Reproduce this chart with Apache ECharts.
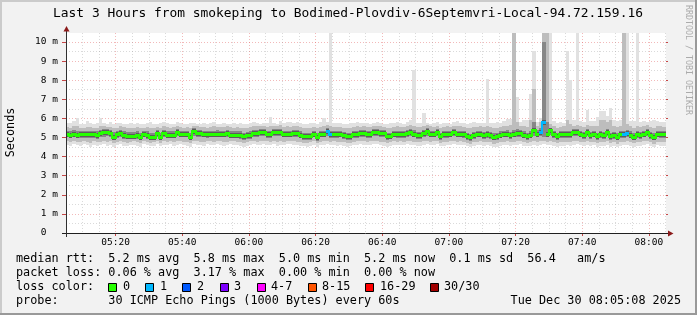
<!DOCTYPE html>
<html><head><meta charset="utf-8">
<script src="https://cdn.jsdelivr.net/npm/echarts@6/dist/echarts.min.js"></script>
<style>html,body{margin:0;padding:0;background:#f2f2f2;}#c{width:697px;height:315px;}</style>
</head><body><div id="c"></div>
<script>
// ---------- data ----------
const firstColumn = '05:05';            // first one-minute column
const axisStart = '05:05:08', axisEnd = '08:05:08';
const majorTickLabels = ['05:20','05:40','06:00','06:20','06:40','07:00','07:20','07:40','08:00'];
const minorTickLabels = ['05:10','05:15','05:25','05:30','05:35','05:45','05:50','05:55','06:05','06:10','06:15','06:25','06:30','06:35','06:45','06:50','06:55','07:05','07:10','07:15','07:25','07:30','07:35','07:45','07:50','07:55','08:05'];
const yTickValues = [0,1,2,3,4,5,6,7,8,9,10];
const yMinorValues = [0.5,1.5,2.5,3.5,4.5,5.5,6.5,7.5,8.5,9.5];
const yMax = 10.47;

const medianRtt = [
5.20,5.12,5.20,5.11,5.17,5.17,5.16,5.17,5.17,5.11,
5.24,5.27,5.27,5.26,5.00,5.17,5.24,5.13,5.06,5.10,
5.10,5.11,5.00,5.20,5.13,5.03,5.04,5.24,5.00,5.22,
5.15,5.15,5.15,5.30,5.20,5.20,5.20,5.03,5.33,5.24,
5.24,5.18,5.18,5.18,5.20,5.20,5.20,5.20,5.25,5.15,
5.15,5.15,5.15,5.06,5.11,5.11,5.24,5.24,5.29,5.29,
5.17,5.17,5.27,5.27,5.27,5.20,5.20,5.20,5.22,5.22,
5.15,5.06,5.06,5.06,5.20,5.00,5.20,5.20,5.32,5.17,
5.18,5.18,5.18,5.13,5.06,5.06,5.17,5.17,5.22,5.22,
5.17,5.17,5.29,5.29,5.24,5.24,5.06,5.06,5.20,5.17,
5.17,5.17,5.24,5.29,5.20,5.13,5.13,5.24,5.32,5.20,
5.20,5.29,5.06,5.17,5.17,5.20,5.29,5.20,5.20,5.17,
5.06,5.00,5.11,5.20,5.20,5.11,5.17,5.11,5.03,5.06,
5.15,5.20,5.20,5.11,5.20,5.24,5.24,5.15,5.06,5.15,
5.37,5.20,5.29,5.81,5.20,5.37,5.17,5.06,5.17,5.17,
5.17,5.17,5.29,5.29,5.20,5.13,5.27,5.13,5.20,5.06,
5.17,5.11,5.29,5.06,5.11,5.03,5.17,5.17,5.24,5.15,
5.03,5.17,5.11,5.20,5.29,5.11,5.03,5.20,5.17,5.17];

const lossCount = [
0,0,0,0,0,0,0,0,0,0, 0,0,0,0,0,0,0,0,0,0, 0,0,0,0,0,0,0,0,0,0,
0,0,0,0,0,0,0,0,0,0, 0,0,0,0,0,0,0,0,0,0, 0,0,0,0,0,0,0,0,0,0,
0,0,0,0,0,0,0,0,0,0, 0,0,0,0,0,0,0,0,1,1, 0,0,0,0,0,0,0,0,0,0,
0,0,0,0,0,0,0,0,0,0, 0,0,0,0,0,0,0,0,0,0, 0,0,0,0,0,0,0,0,0,0,
0,0,0,0,0,0,0,0,0,0, 0,0,0,0,0,0,0,0,0,0, 0,0,1,1,0,0,0,0,0,0,
0,0,0,0,0,0,0,0,0,0, 0,0,0,0,0,0,0,1,1,0, 0,0,0,0,0,0,0,0,0,0];

// smoke envelope (outermost = min/max of pings)
const smokeMax = [
5.78,5.75,5.85,6.00,5.72,5.70,5.85,5.75,5.70,5.76,
6.00,5.78,5.72,5.80,5.70,5.75,5.78,5.72,5.70,5.74,
5.70,5.76,5.72,5.68,5.75,5.80,5.72,5.70,5.78,5.82,
5.74,5.70,5.72,5.80,5.76,5.70,5.72,5.78,5.74,5.70,
5.72,5.76,5.70,5.74,5.80,5.72,5.70,5.76,5.72,5.70,
5.74,5.72,5.78,5.70,5.72,5.75,5.82,5.76,5.72,5.74,
5.76,6.05,5.75,5.72,5.85,5.74,5.80,5.82,5.78,5.80,
5.76,5.72,5.70,5.74,5.78,5.72,5.80,6.00,5.82,10.60,
5.78,5.74,5.76,5.72,5.70,5.74,5.78,5.80,5.76,5.78,
5.74,5.72,5.76,5.82,5.74,5.70,5.72,5.78,5.74,5.80,
5.76,5.72,5.80,5.92,8.52,5.76,5.78,6.28,5.74,5.72,
5.76,5.80,5.72,5.74,5.78,5.72,5.80,5.84,5.76,5.74,
5.72,5.76,5.80,5.74,5.78,5.76,8.05,5.74,5.76,5.80,
5.78,5.84,5.95,5.95,10.60,7.12,5.80,5.90,5.92,7.30,
9.52,5.82,6.00,10.60,10.60,10.60,5.84,5.76,5.80,5.78,
9.55,8.00,5.90,10.60,5.84,5.82,6.42,5.88,5.84,6.07,
6.37,6.37,6.11,6.56,5.90,5.86,5.92,10.60,10.60,5.88,
5.84,10.60,5.80,5.88,5.82,5.86,5.90,5.84,5.80,5.82];
const smokeMin = [
4.62,4.58,4.66,4.60,4.55,4.64,4.60,4.52,4.62,4.58,
4.60,4.66,4.56,4.62,4.50,4.60,4.64,4.58,4.55,4.60,
4.62,4.56,4.52,4.64,4.60,4.55,4.58,4.66,4.54,4.62,
4.60,4.64,4.58,4.62,4.66,4.60,4.58,4.52,4.64,4.62,
4.60,4.58,4.64,4.62,4.60,4.66,4.62,4.58,4.60,4.64,
4.62,4.60,4.56,4.52,4.58,4.62,4.64,4.60,4.62,4.66,
4.62,4.60,4.64,4.58,4.62,4.60,4.64,4.66,4.62,4.60,
4.58,4.54,4.52,4.56,4.62,4.50,4.60,4.62,4.64,4.60,
4.62,4.58,4.60,4.56,4.52,4.54,4.60,4.62,4.64,4.62,
4.60,4.62,4.64,4.66,4.60,4.58,4.52,4.56,4.62,4.60,
4.62,4.60,4.64,4.62,4.60,4.58,4.56,4.62,4.66,4.60,
4.62,4.64,4.54,4.58,4.60,4.62,4.64,4.60,4.62,4.60,
4.54,4.50,4.56,4.60,4.62,4.56,4.60,4.56,4.50,4.52,
4.58,4.60,4.62,4.58,4.60,4.62,4.64,4.58,4.54,4.58,
4.60,4.58,4.62,4.66,4.60,4.62,4.58,4.52,4.56,4.58,
4.60,4.58,4.62,4.64,4.60,4.56,4.62,4.56,4.60,4.52,
4.58,4.56,4.62,4.52,4.56,4.50,4.58,4.60,4.62,4.58,
4.52,4.58,4.56,4.62,4.64,4.56,4.50,4.60,4.56,4.58];
// middle smoke layer
const smokeHi2 = [
5.55,5.52,5.58,5.60,5.50,5.52,5.56,5.54,5.50,5.52,
5.60,5.58,5.55,5.56,5.48,5.52,5.58,5.54,5.50,5.52,
5.50,5.54,5.48,5.52,5.55,5.50,5.48,5.56,5.50,5.58,
5.55,5.52,5.54,5.62,5.56,5.52,5.54,5.50,5.62,5.58,
5.55,5.54,5.52,5.56,5.58,5.55,5.54,5.56,5.60,5.54,
5.52,5.54,5.52,5.50,5.52,5.54,5.58,5.58,5.60,5.62,
5.56,5.62,5.60,5.62,5.64,5.56,5.58,5.56,5.58,5.60,
5.54,5.50,5.50,5.52,5.56,5.50,5.56,5.60,5.64,5.62,
5.56,5.54,5.56,5.52,5.50,5.52,5.56,5.58,5.56,5.58,
5.56,5.54,5.60,5.62,5.58,5.56,5.50,5.52,5.56,5.58,
5.56,5.54,5.60,5.64,5.60,5.54,5.56,5.62,5.64,5.58,
5.56,5.62,5.52,5.56,5.58,5.56,5.62,5.60,5.58,5.56,
5.52,5.48,5.54,5.56,5.58,5.54,5.62,5.54,5.50,5.52,
5.56,5.58,5.62,5.66,10.60,5.80,5.62,5.60,5.56,5.90,
7.56,5.62,5.80,10.60,10.60,5.70,5.58,5.52,5.56,5.58,
5.90,5.70,5.62,5.64,5.58,5.56,5.66,5.58,5.60,5.62,
5.92,5.90,5.80,5.94,5.62,5.56,5.60,10.60,5.70,5.58,
5.52,5.60,5.56,5.60,5.64,5.56,5.52,5.60,5.58,5.56];
const smokeLo2 = [
4.80,4.76,4.82,4.78,4.74,4.80,4.78,4.72,4.80,4.76,
4.78,4.82,4.74,4.80,4.70,4.78,4.82,4.76,4.72,4.78,
4.80,4.74,4.70,4.82,4.78,4.72,4.76,4.82,4.72,4.80,
4.78,4.82,4.76,4.80,4.82,4.78,4.76,4.72,4.82,4.80,
4.78,4.76,4.82,4.80,4.78,4.82,4.80,4.76,4.78,4.82,
4.80,4.78,4.74,4.70,4.76,4.80,4.82,4.78,4.80,4.82,
4.80,4.78,4.82,4.76,4.80,4.78,4.82,4.84,4.80,4.78,
4.76,4.72,4.70,4.74,4.80,4.70,4.78,4.80,4.82,4.78,
4.80,4.76,4.78,4.74,4.70,4.72,4.78,4.80,4.82,4.80,
4.78,4.80,4.82,4.84,4.78,4.76,4.70,4.74,4.80,4.78,
4.80,4.78,4.82,4.80,4.78,4.76,4.74,4.80,4.82,4.78,
4.80,4.82,4.72,4.76,4.78,4.80,4.82,4.78,4.80,4.78,
4.72,4.68,4.74,4.78,4.80,4.74,4.78,4.74,4.68,4.70,
4.76,4.78,4.80,4.76,4.78,4.80,4.82,4.76,4.72,4.76,
4.80,4.76,4.80,4.84,4.78,4.80,4.76,4.70,4.74,4.76,
4.78,4.76,4.80,4.82,4.78,4.74,4.80,4.74,4.78,4.70,
4.76,4.74,4.80,4.70,4.74,4.68,4.76,4.78,4.80,4.76,
4.70,4.76,4.74,4.80,4.82,4.74,4.68,4.78,4.74,4.76];
// inner smoke layer
const smokeHi3 = [
5.36,5.32,5.38,5.36,5.34,5.34,5.36,5.35,5.34,5.32,
5.40,5.42,5.42,5.40,5.28,5.34,5.40,5.32,5.28,5.30,
5.30,5.32,5.24,5.36,5.32,5.26,5.26,5.40,5.26,5.38,
5.32,5.32,5.34,5.46,5.36,5.36,5.36,5.26,5.48,5.40,
5.40,5.36,5.34,5.36,5.36,5.38,5.36,5.36,5.40,5.32,
5.32,5.32,5.32,5.26,5.30,5.32,5.40,5.40,5.44,5.44,
5.34,5.36,5.44,5.44,5.44,5.36,5.36,5.36,5.38,5.38,
5.32,5.26,5.24,5.26,5.36,5.22,5.36,5.36,5.48,5.36,
5.34,5.34,5.36,5.30,5.24,5.26,5.34,5.34,5.38,5.38,
5.34,5.34,5.44,5.46,5.40,5.40,5.24,5.26,5.36,5.34,
5.34,5.34,5.40,5.46,5.38,5.30,5.30,5.40,5.48,5.36,
5.36,5.44,5.24,5.34,5.34,5.36,5.44,5.36,5.36,5.34,
5.24,5.20,5.28,5.36,5.36,5.28,5.34,5.28,5.22,5.24,
5.32,5.36,5.38,5.30,5.40,5.42,5.40,5.32,5.26,5.34,
5.80,5.38,5.50,10.00,5.80,5.52,5.34,5.24,5.34,5.34,
5.36,5.36,5.44,5.46,5.36,5.30,5.44,5.30,5.36,5.24,
5.34,5.30,5.46,5.24,5.28,5.22,5.34,5.36,5.40,5.32,
5.22,5.34,5.30,5.36,5.44,5.28,5.22,5.36,5.34,5.34];
const smokeLo3 = [
5.00,4.96,5.00,4.96,4.98,4.98,4.96,4.98,4.98,4.94,
5.02,5.04,5.06,5.04,4.86,4.98,5.02,4.94,4.90,4.92,
4.94,4.92,4.86,5.00,4.94,4.88,4.88,5.02,4.86,5.00,
4.96,4.98,4.96,5.08,5.00,5.00,5.00,4.86,5.10,5.02,
5.02,5.00,4.98,5.00,5.00,5.00,5.00,5.00,5.04,4.96,
4.96,4.96,4.94,4.88,4.92,4.94,5.02,5.04,5.06,5.08,
4.98,4.98,5.06,5.06,5.06,5.00,5.00,5.00,5.02,5.02,
4.96,4.88,4.86,4.88,5.00,4.84,5.00,5.00,5.10,4.98,
4.98,4.98,5.00,4.94,4.88,4.88,4.98,4.98,5.02,5.02,
4.98,4.98,5.08,5.10,5.04,5.04,4.88,4.90,5.00,4.98,
4.98,4.98,5.04,5.08,5.00,4.94,4.94,5.04,5.10,5.00,
5.00,5.06,4.88,4.98,4.98,5.00,5.06,5.00,5.00,4.98,
4.88,4.84,4.92,5.00,5.00,4.92,4.98,4.92,4.86,4.88,
4.96,5.00,5.00,4.92,5.00,5.04,5.04,4.96,4.88,4.96,
5.10,5.00,5.06,5.04,5.00,5.12,4.98,4.88,4.98,4.98,
4.98,4.98,5.06,5.08,5.00,4.94,5.06,4.94,5.00,4.88,
4.98,4.92,5.08,4.88,4.92,4.86,4.98,4.98,5.04,4.96,
4.86,4.98,4.92,5.00,5.06,4.92,4.86,5.00,4.98,4.98];

const lossLegendLabels = ['0','1','2','3','4-7','8-15','16-29','30/30'];
const lossLegendColors = ['#26ff00','#00b8ff','#0059ff','#7e00ff','#ff00ff','#ff5500','#ff0000','#a10000'];

// ---------- helpers ----------
function toMin(s){ const p = s.split(':'); return (+p[0])*60 + (+p[1]) + (p[2] ? (+p[2])/60 : 0); }
function fmt(v){ const h = Math.floor(v/60 + 1e-9), m = Math.round(v - h*60); return (h<10?'0':'')+h+':'+(m<10?'0':'')+m; }
function lossColor(n){
  if (n <= 0) return lossLegendColors[0];
  if (n <= 3) return lossLegendColors[n];
  if (n <= 7) return lossLegendColors[4];
  if (n <= 15) return lossLegendColors[5];
  if (n <= 29) return lossLegendColors[6];
  return lossLegendColors[7];
}
const t0 = toMin(firstColumn);
const xMin = toMin(axisStart), xMax = toMin(axisEnd);
const majorVals = majorTickLabels.map(toMin);
const minorVals = minorTickLabels.map(toMin);

function bandData(lo, hi){ return lo.map((v,i)=>[t0+i, v, hi[i]]); }
function bandRenderer(color){
  return function(params, api){
    const t = api.value(0);
    const pLo = api.coord([t, api.value(1)]);
    const pHi = api.coord([t+1, api.value(2)]);
    const cs = params.coordSys;
    const x0 = Math.round(Math.max(pLo[0], cs.x)), x1 = Math.round(Math.min(pHi[0], cs.x+cs.width));
    const yT = Math.round(Math.max(pHi[1], cs.y)), yB = Math.round(Math.min(pLo[1], cs.y+cs.height));
    if (x1 <= x0 || yB <= yT) return null;
    return {type:'rect', shape:{x:x0, y:yT, width:x1-x0, height:yB-yT}, style:{fill:color}};
  };
}
const medData = medianRtt.map((v,i)=>[t0+i, v, lossCount[i]]);
function coreRenderer(params, api){
  const t = api.value(0), v = api.value(1), cs = params.coordSys;
  const p0 = api.coord([t, v]), p1 = api.coord([t+1, v]);
  const x0 = Math.round(Math.max(p0[0], cs.x)), x1 = Math.round(Math.min(p1[0], cs.x+cs.width));
  const y = Math.round(p0[1]);
  return {type:'rect', shape:{x:x0, y:y-2, width:x1-x0, height:5}, style:{fill:'#5c5c5c'}};
}
function medianRenderer(params, api){
  const i = params.dataIndex;
  const t = api.value(0), v = api.value(1), cs = params.coordSys;
  const p0 = api.coord([t, v]), p1 = api.coord([t+1, v]);
  const x0 = Math.round(Math.max(p0[0], cs.x)), x1 = Math.round(Math.min(p1[0], cs.x+cs.width));
  const y = Math.round(p0[1]);
  const col = lossColor(lossCount[i]);
  const children = [{type:'rect', shape:{x:x0, y:y-1, width:x1-x0, height:3}, style:{fill:col}}];
  if (i+1 < medianRtt.length && lossColor(lossCount[i+1]) === col) {
    const yn = Math.round(api.coord([t+1, medianRtt[i+1]])[1]);
    if (yn !== y) {
      const a = Math.min(y, yn), b = Math.max(y, yn);
      children.push({type:'rect', shape:{x:x1-1, y:a-1, width:2, height:b-a+3}, style:{fill:col}});
    }
  }
  return {type:'group', children:children};
}

// ---------- chart ----------
const mono = '"DejaVu Sans Mono", monospace';
const chart = echarts.init(document.getElementById('c'), null, {renderer:'canvas', width:697, height:315});
const redGrid = 'rgba(222,80,80,0.4)';
const grayGrid = 'rgba(140,140,140,0.32)';
const redTick = 'rgba(190,40,40,0.85)';

function text(x, y, s, size, extra){
  const st = Object.assign({text:s, font:size+'px '+mono, fill:'#000', align:'left', verticalAlign:'middle'}, extra||{});
  return {type:'text', x:x, y:y, silent:true, style:st, z:10};
}
const graphics = [
  {type:'rect', shape:{x:0,y:0,width:697,height:2}, style:{fill:'#cbcbcb'}, silent:true},
  {type:'rect', shape:{x:0,y:0,width:2,height:315}, style:{fill:'#cbcbcb'}, silent:true},
  {type:'rect', shape:{x:695,y:0,width:2,height:315}, style:{fill:'#999999'}, silent:true},
  {type:'rect', shape:{x:0,y:313,width:697,height:2}, style:{fill:'#999999'}, silent:true},
  text(348, 14, 'Last 3 Hours from smokeping to Bodimed-Plovdiv-6Septemvri-Local-94.72.159.16', 12.9, {align:'center'}),
  Object.assign(text(10.5, 132.5, 'Seconds', 11.8, {align:'center'}), {rotation: Math.PI/2}),
  Object.assign(text(688.5, 60, 'RRDTOOL / TOBI OETIKER', 8.3, {align:'center', fill:'#ababab'}), {rotation: -Math.PI/2}),
  text(16, 259, 'median rtt:  5.2 ms avg  5.8 ms max  5.0 ms min  5.2 ms now  0.1 ms sd  56.4   am/s', 11.8),
  text(16, 273, 'packet loss: 0.06 % avg  3.17 % max  0.00 % min  0.00 % now', 11.8),
  text(16, 287, 'loss color:', 11.8),
  text(16, 301, 'probe:       30 ICMP Echo Pings (1000 Bytes) every 60s', 11.8),
  text(681, 301, 'Tue Dec 30 08:05:08 2025', 11.8, {align:'right'}),
  // axis lines and arrows
  {type:'line', shape:{x1:62, y1:233.5, x2:669, y2:233.5}, style:{stroke:'#202020', lineWidth:1}, z:10, silent:true},
  {type:'line', shape:{x1:66.5, y1:237, x2:66.5, y2:30}, style:{stroke:'#303030', lineWidth:1}, z:10, silent:true},
  {type:'polygon', shape:{points:[[63.5,31.5],[69.5,31.5],[66.5,26]]}, style:{fill:'#8b1a1a'}, z:11, silent:true},
  {type:'polygon', shape:{points:[[668,230.5],[668,236.5],[673.5,233.5]]}, style:{fill:'#8b1a1a'}, z:11, silent:true}
];
const boxX = [108,145,182,220,257,308,365,430];
const labX = [123,160,197,234,271,322,380,444];
lossLegendLabels.forEach((lab, i)=>{
  graphics.push({type:'rect', shape:{x:boxX[i]+0.5, y:283.5, width:8, height:8}, style:{fill:lossLegendColors[i], stroke:'#000', lineWidth:1}, z:10, silent:true});
  graphics.push(text(labX[i], 287, lab, 11.8));
});

const axisFont = {fontFamily: mono, fontSize: 9.5, color:'#000'};
chart.setOption({
  animation:false,
  backgroundColor:'#f2f2f2',
  textStyle:{fontFamily: mono},
  grid:{left:66, top:33, width:600, height:200, show:true, backgroundColor:'#ffffff', borderWidth:0, containLabel:false},
  xAxis:[
    {type:'value', position:'bottom', min:xMin, max:xMax,
     axisLine:{show:false}, axisLabel:{show:false, customValues:minorVals}, axisTick:{show:false, customValues:minorVals},
     splitLine:{show:true, lineStyle:{color:grayGrid, width:1, type:[1,2]}}},
    {type:'value', position:'bottom', min:xMin, max:xMax,
     axisLine:{show:false},
     axisTick:{show:true, customValues:majorVals, length:3, lineStyle:{color:redTick}},
     axisLabel:{show:true, customValues:majorVals, margin:5, formatter:fmt, ...axisFont},
     splitLine:{show:true, lineStyle:{color:redGrid, width:1, type:[1,2]}}}
  ],
  yAxis:[
    {type:'value', position:'left', min:0, max:yMax,
     axisLine:{show:false}, axisLabel:{show:false, customValues:yMinorValues}, axisTick:{show:false, customValues:yMinorValues},
     splitLine:{show:true, lineStyle:{color:grayGrid, width:1, type:[1,2]}}},
    {type:'value', position:'left', min:0, max:yMax,
     axisLine:{show:false},
     axisTick:{show:true, customValues:yTickValues, length:4, lineStyle:{color:redTick}},
     axisLabel:{show:true, customValues:yTickValues, margin:8, formatter:(v)=> v===0 ? '0  ' : v+' m', ...axisFont},
     splitLine:{show:true, lineStyle:{color:redGrid, width:1, type:[1,2]}}},
    {type:'value', position:'right', min:0, max:yMax,
     axisLine:{show:false}, axisLabel:{show:false, customValues:yTickValues},
     axisTick:{show:true, customValues:yTickValues, length:2, lineStyle:{color:redTick}},
     splitLine:{show:false}}
  ],
  series:[
    {type:'custom', name:'smoke outer', xAxisIndex:1, yAxisIndex:1, renderItem:bandRenderer('#e1e1e1'), data:bandData(smokeMin, smokeMax), encode:{x:0, y:[1,2]}, silent:true},
    {type:'custom', name:'smoke mid', xAxisIndex:1, yAxisIndex:1, renderItem:bandRenderer('#bdbdbd'), data:bandData(smokeLo2, smokeHi2), encode:{x:0, y:[1,2]}, silent:true},
    {type:'custom', name:'smoke inner', xAxisIndex:1, yAxisIndex:1, renderItem:bandRenderer('#878787'), data:bandData(smokeLo3, smokeHi3), encode:{x:0, y:[1,2]}, silent:true},
    {type:'custom', name:'core', xAxisIndex:1, yAxisIndex:1, renderItem:coreRenderer, data:medData, encode:{x:0, y:1}, silent:true},
    {type:'custom', name:'median rtt', xAxisIndex:1, yAxisIndex:1, renderItem:medianRenderer, data:medData, encode:{x:0, y:1}, silent:true}
  ],
  graphic: graphics
});
</script></body></html>
